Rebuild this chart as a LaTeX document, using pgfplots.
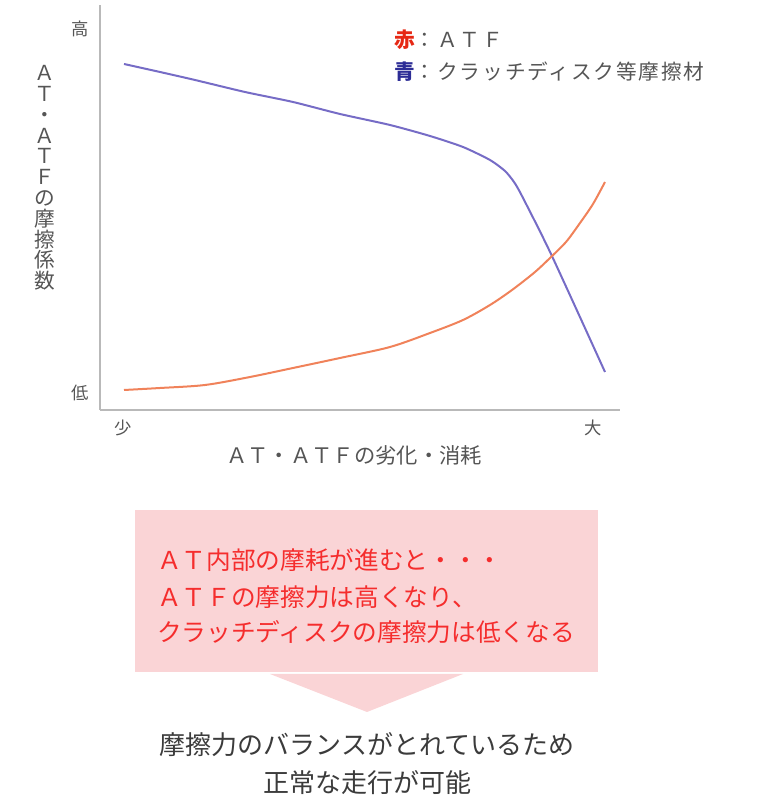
\documentclass[border=0pt]{standalone}
\usepackage{pgfplots}
\pgfplotsset{compat=1.18}
\usepackage{fontspec}
\newfontfamily\jp{Noto Sans CJK JP}
\newfontfamily\jpwide[LetterSpace=9]{Noto Sans CJK JP}
\definecolor{axisgray}{RGB}{185,185,185}
\definecolor{curveblue}{RGB}{118,108,198}
\definecolor{curvered}{RGB}{240,130,90}
\definecolor{boxpink}{RGB}{250,212,214}
\definecolor{boxred}{RGB}{245,45,45}
\definecolor{txtgray}{RGB}{85,85,85}
\definecolor{legred}{RGB}{230,40,20}
\definecolor{legblue}{RGB}{45,45,150}
\begin{document}
\begin{tikzpicture}
\path (0pt,0pt) rectangle (570pt,600pt);
\begin{axis}[
  at={(75pt,292.5pt)}, anchor=south west,
  scale only axis, width=390pt, height=303.75pt,
  xmin=100, xmax=620, ymin=0, ymax=405,
  axis x line=bottom, axis y line=left,
  axis line style={-, draw=axisgray, line width=1.5pt},
  xtick=\empty, ytick=\empty, clip=false]
  % blue: clutch disc friction material
  \addplot[curveblue, line width=1.5pt, smooth, tension=0.4] coordinates {
    (124,346) (160,338) (195,330) (245,318) (293,308) (340,296) (390,285)
    (430,274) (463,263) (490,250) (505,239) (514,228) (522,214) (551,156) (605,38)};
  % red: ATF
  \addplot[curvered, line width=1.5pt, smooth] coordinates {
    (124,20) (160,22) (205,25) (250,33) (293,42) (340,52) (390,63) (430,77)
    (463,90) (490,105) (512,120) (535,138) (551,153) (566,168) (580,187)
    (593,206) (605,228)};
\end{axis}
\begin{scope}[x=0.75pt, y=-0.75pt, shift={(0pt,600pt)}, font=\jp]
  % axis end labels
  \node[txtgray, font=\jp\fontsize{13}{15}\selectfont] at (80,29) {高};
  \node[txtgray, font=\jp\fontsize{13}{15}\selectfont] at (80,393) {低};
  \node[txtgray, font=\jp\fontsize{13}{15}\selectfont] at (123,428) {少};
  \node[txtgray, font=\jp\fontsize{13}{15}\selectfont] at (593,428) {大};
  % y label, stacked
  \node[txtgray, align=center, font=\jp\fontsize{15.5}{15.6}\selectfont, inner sep=0pt]
    at (45,178) {Ａ\\Ｔ\\・\\Ａ\\Ｔ\\Ｆ\\の\\摩\\擦\\係\\数};
  % x label
  \node[txtgray, font=\jp\fontsize{16}{18}\selectfont] at (354,455) {ＡＴ・ＡＴＦの劣化・消耗};
  % legend
  \node[anchor=west, txtgray, font=\jpwide\fontsize{15.5}{18}\selectfont, inner sep=0pt]
    at (394,40) {\textcolor{legred}{\bfseries 赤}：ＡＴＦ};
  \node[anchor=west, txtgray, font=\jpwide\fontsize{15.5}{18}\selectfont, inner sep=0pt]
    at (394,72) {\textcolor{legblue}{\bfseries 青}：クラッチディスク等摩擦材};
  % pink box and arrow
  \fill[boxpink] (135,510) rectangle (598,672);
  \fill[boxpink] (270,674) -- (463,674) -- (367,712) -- cycle;
  \node[anchor=west, boxred, font=\jp\fontsize{18.5}{27}\selectfont, inner sep=0pt]
    at (157,560) {ＡＴ内部の摩耗が進むと・・・};
  \node[anchor=west, boxred, font=\jp\fontsize{18.5}{27}\selectfont, inner sep=0pt]
    at (157,597) {ＡＴＦの摩擦力は高くなり、};
  \node[anchor=west, boxred, font=\jp\fontsize{18.5}{27}\selectfont, inner sep=0pt]
    at (157,632) {クラッチディスクの摩擦力は低くなる};
  % conclusion
  \node[txtgray!70!black, font=\jp\fontsize{19.5}{28}\selectfont] at (367,745) {摩擦力のバランスがとれているため};
  \node[txtgray!70!black, font=\jp\fontsize{19.5}{28}\selectfont] at (367,783) {正常な走行が可能};
\end{scope}
\end{tikzpicture}
\end{document}
